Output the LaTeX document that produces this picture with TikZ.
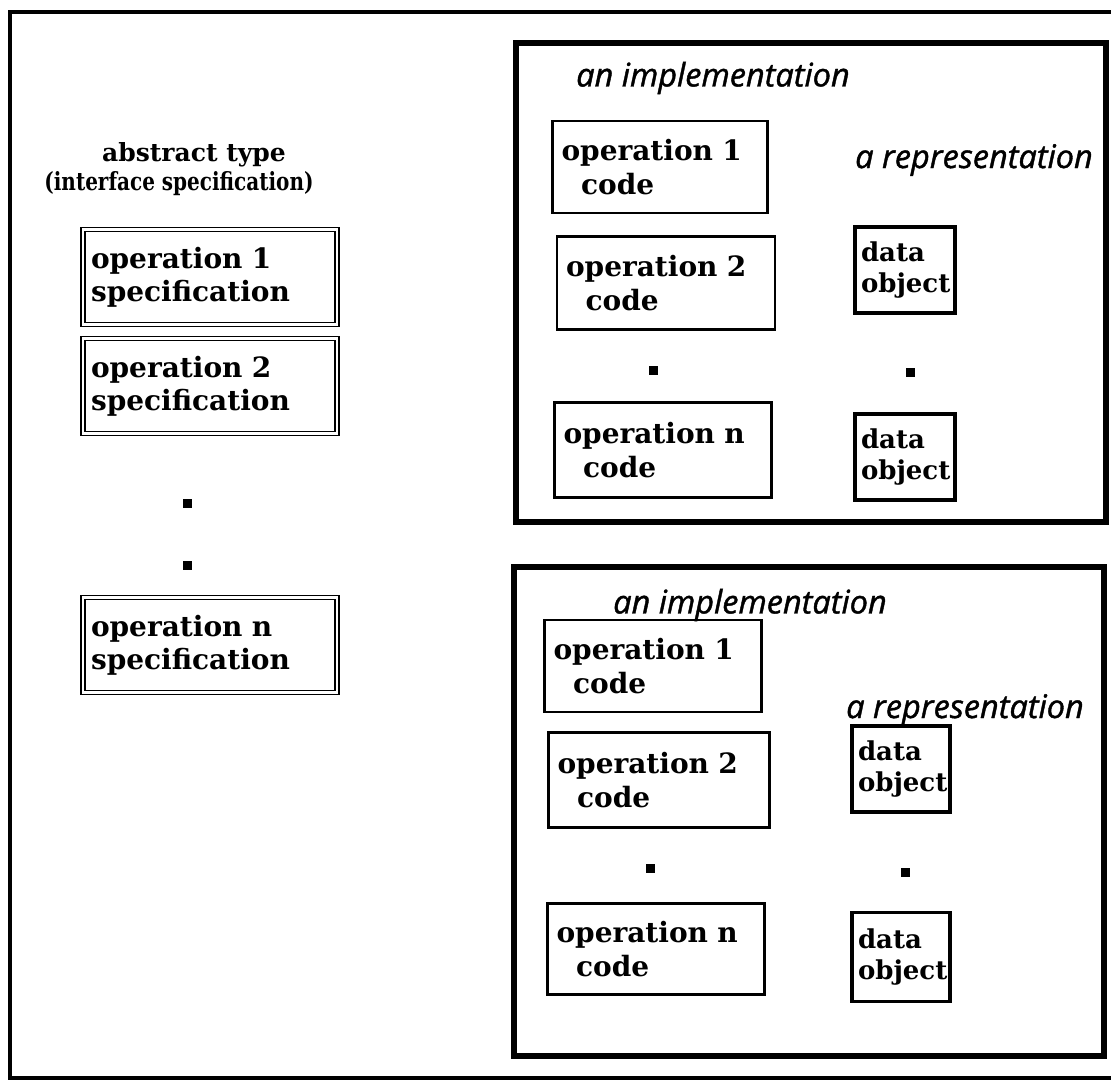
\documentclass[tikz,border=0pt]{standalone}
\usepackage{graphicx}
\usepackage{fontspec}
\setmainfont{DejaVu Serif}
\newfontfamily\labelfont[ItalicFeatures={FakeBold=1.2}]{Open Sans}
\begin{document}
\begin{tikzpicture}[x=1pt,y=-1pt,
  codebox/.style={draw, line width=2.8pt, font=\bfseries\fontsize{28}{34}\selectfont,
    align=left, inner xsep=9pt, inner ysep=0pt, minimum height=92pt},
  databox/.style={draw, line width=3.5pt, font=\bfseries\fontsize{26}{31}\selectfont,
    align=left, inner xsep=6pt, inner ysep=0pt, minimum height=86pt},
  specbox/.style={draw, double, double distance=2.6pt, line width=1.4pt,
    font=\bfseries\fontsize{28}{33}\selectfont, align=left,
    inner xsep=8pt, inner ysep=0pt, minimum height=95pt},
  heading/.style={font=\bfseries\fontsize{25}{30}\selectfont},
  italiclabel/.style={font=\labelfont\itshape\fontsize{32.5}{38}\selectfont},
  implbox/.style={draw, line width=6pt},
  dotmark/.style={fill=black, minimum size=9pt, inner sep=0pt},
]
\useasboundingbox (0,0) rectangle (1111,1084);

% outer frame (its right side runs along the page edge)
\draw[line width=3.5pt] (10,12) rectangle (1113,1078);

% abstract type column
\node[heading] (abs) at (194,155) {abstract type};
\node[heading] (iface) at (179,184) {\scalebox{0.8}[1]{(interface specification)}};
\node[specbox, text width=238pt] (spec1) at (210,277) {operation 1\\specification};
\node[specbox, text width=238pt] (spec2) at (210,386) {operation 2\\specification};
\node[dotmark] (sdot1) at (187,503) {};
\node[dotmark] (sdot2) at (187,565) {};
\node[specbox, text width=238pt] (specn) at (210,645) {operation n\\specification};

% first implementation
\draw[implbox] (516,43) rectangle (1106,522);
\node[italiclabel] (implA) at (713,78) {an implementation};
\node[italiclabel] (reprA) at (974,160) {a representation};
\node[codebox, text width=197pt] (codeA1) at (660,167) {operation 1\\\hspace*{0.7em}code};
\node[codebox, text width=200pt, minimum height=93pt] (codeA2) at (666,283) {operation 2\\\hspace*{0.7em}code};
\node[dotmark] (cdotA) at (653,370) {};
\node[codebox, text width=199pt, minimum height=95pt] (codeAn) at (663,450) {operation n\\\hspace*{0.7em}code};
\node[databox, text width=88pt] (dataA1) at (905,270) {data\\object};
\node[dotmark] (ddotA) at (910,372) {};
\node[databox, text width=88pt] (dataA2) at (905,457) {data\\object};

% second implementation
\draw[implbox] (514,567) rectangle (1104,1056);
\node[italiclabel] (implB) at (750,605) {an implementation};
\node[italiclabel] (reprB) at (965,710) {a representation};
\node[codebox, text width=199pt] (codeB1) at (653,666) {operation 1\\\hspace*{0.7em}code};
\node[codebox, text width=203pt, minimum height=95pt] (codeB2) at (659,780) {operation 2\\\hspace*{0.7em}code};
\node[dotmark] (cdotB) at (650,868) {};
\node[codebox, text width=199pt, minimum height=91pt] (codeBn) at (656,949) {operation n\\\hspace*{0.7em}code};
\node[databox, text width=86pt] (dataB1) at (901,769) {data\\object};
\node[dotmark] (ddotB) at (905,872) {};
\node[databox, text width=86pt, minimum height=89pt] (dataB2) at (901,957) {data\\object};
\end{tikzpicture}
\end{document}
